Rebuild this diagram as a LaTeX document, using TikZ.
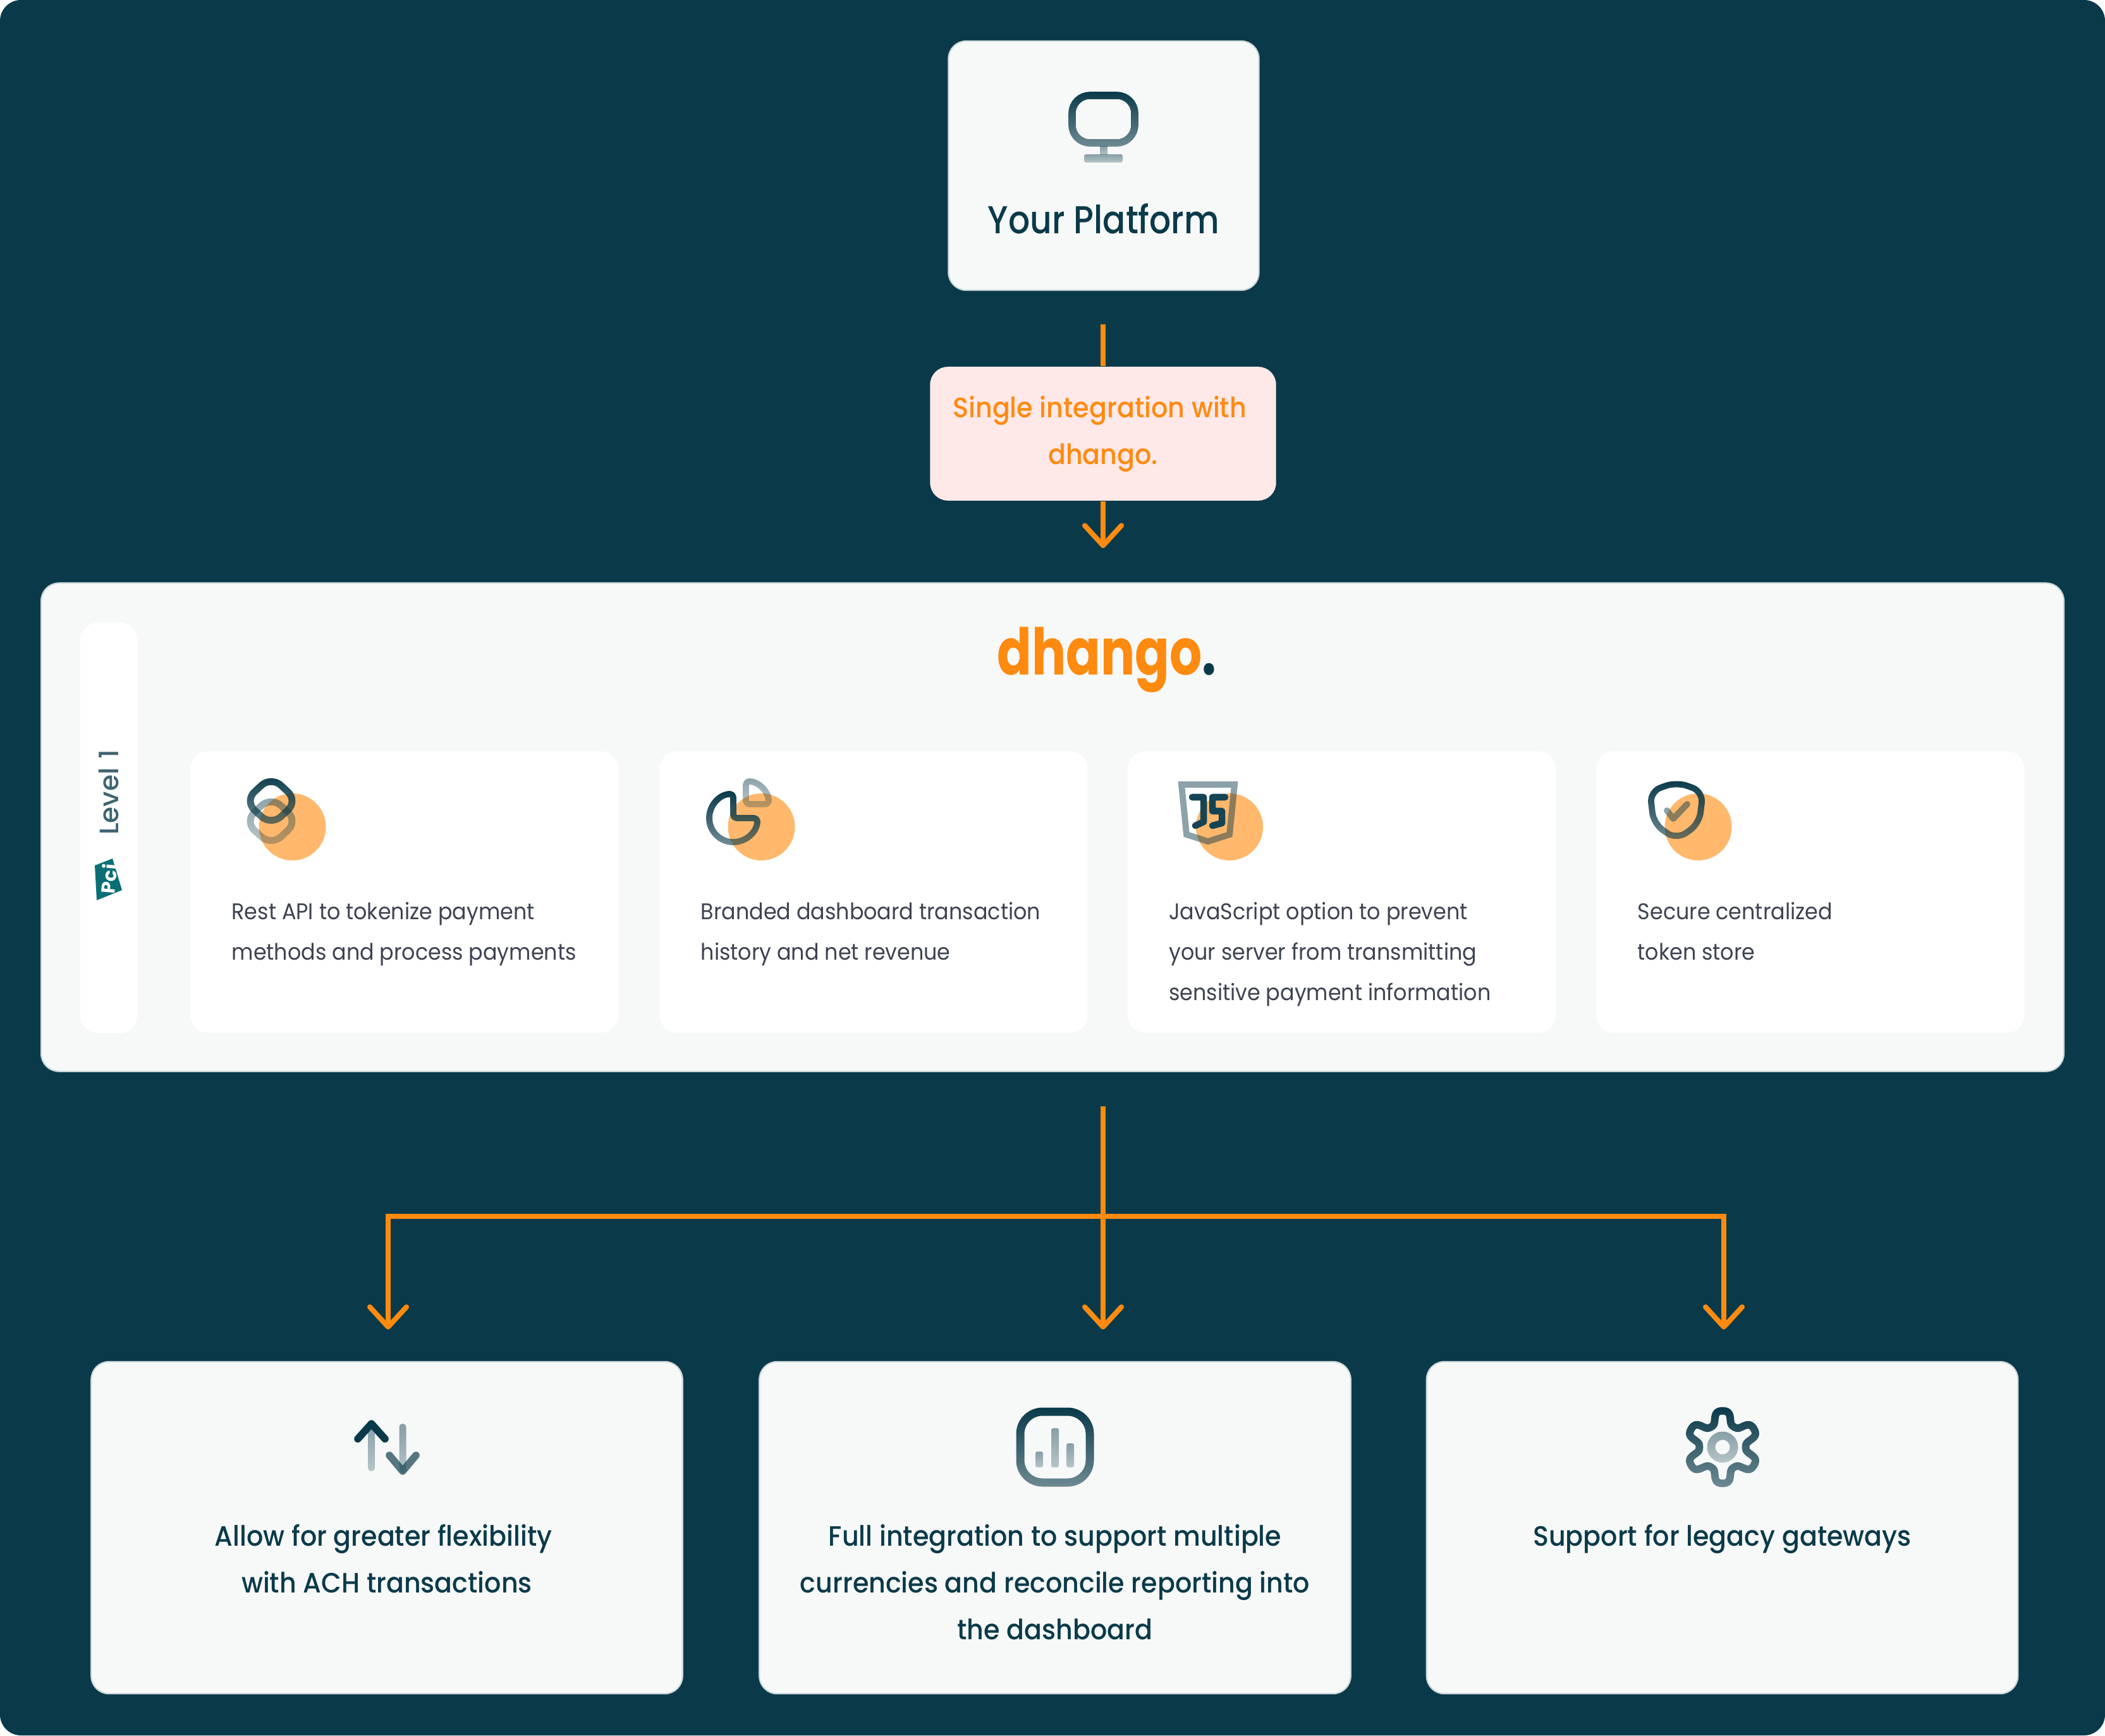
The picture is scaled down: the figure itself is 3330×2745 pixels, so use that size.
\documentclass[tikz,border=0pt]{standalone}
\usepackage{fontspec}
\setmainfont{Poppins}
\newfontfamily\headfont{Poppins Medium}[FakeStretch=0.87]
\newfontfamily\medfont{Poppins Medium}[FakeStretch=0.93]
\newfontfamily\sidefont{Poppins Medium}
\newfontfamily\regfont{Poppins}[FakeStretch=0.93]
\newfontfamily\logofont{Poppins Bold}[FakeStretch=0.79]
\newfontfamily\pcifont{Poppins Bold}
\usepackage{tikz}
\usetikzlibrary{arrows.meta,positioning,calc,fadings}
\definecolor{bgdark}{HTML}{0A3A4A}
\definecolor{boxfill}{HTML}{F7F9F8}
\definecolor{boxedge}{HTML}{CBD6D9}
\definecolor{brandorange}{HTML}{FF8A10}
\definecolor{softorange}{HTML}{FFB86C}
\definecolor{softpink}{HTML}{FFE8E8}
\definecolor{bodygrey}{HTML}{3E4351}
\definecolor{pciteal}{HTML}{0A6E75}
\tikzfading[name=iconfade,top color=transparent!0,bottom color=transparent!42]
\tikzset{
  bigbox/.style={draw=boxedge,line width=.6pt,fill=boxfill,rounded corners=8pt,inner sep=0pt},
  cardbox/.style={fill=white,rounded corners=8pt,inner sep=0pt,minimum width=6.77cm,minimum height=4.45cm},
  lowerbox/.style={bigbox,minimum width=9.35cm,minimum height=5.25cm},
  flowline/.style={draw=brandorange,line width=2.3pt},
  flowarrow/.style={flowline,-{Straight Barb[length=9pt,width=16.5pt,round]}},
  iconline/.style={draw=bgdark,line width=2.8pt,line join=round,line cap=round},
  darkline/.style={iconline,path fading=iconfade},
  lightline/.style={iconline,draw opacity=.47,path fading=iconfade},
  lightfill/.style={fill=bgdark,fill opacity=.47,path fading=iconfade},
  cardtext/.style={font=\regfont\fontsize{10.2}{18.2}\selectfont,text=bodygrey,align=left,inner sep=0pt,anchor=north west},
  lowertext/.style={font=\medfont\fontsize{12.6}{21}\selectfont,text=bgdark,align=center,inner sep=0pt,anchor=north},
}
\begin{document}
\begin{tikzpicture}[x=0.01cm,y=-0.01cm]
  \useasboundingbox (0,0) rectangle (3330,2745);
  \fill[bgdark,rounded corners=9.4pt] (0,0) rectangle (3330,2745);

  \node[bigbox,minimum width=4.91cm,minimum height=3.94cm] (platform) at (1746,262) {};
  \node[font=\headfont\fontsize{17.5}{21}\selectfont,text=bgdark,anchor=base,inner sep=0pt] (platformtext) at (1746,369) {Your Platform};
  \node[fill=softpink,rounded corners=8pt,inner sep=0pt,minimum width=5.47cm,minimum height=2.115cm] (single) at (1745,686) {};
  \node[lowertext,text=brandorange] (singletext) at (1745,626) {Single integration with\hspace*{3pt}\\dhango.};

  \coordinate (topstart) at (1745,513);
  \coordinate (toparrow) at (1745,867);
  \draw[flowline] (topstart) -- (single.north);
  \draw[flowarrow] (single.south) -- (toparrow);

  \node[bigbox,minimum width=31.98cm,minimum height=7.72cm] (panel) at (1665,1308.5) {};
  \node[fill=white,rounded corners=8pt,inner sep=0pt,minimum width=.9cm,minimum height=6.49cm] (side) at (172,1309.5) {};
  \node[font=\logofont\fontsize{29}{30}\selectfont,text=brandorange,anchor=base,inner sep=0pt] (logo) at (1751,1067) {dhango\textcolor{bgdark}{.}};
  \node[font=\sidefont\fontsize{12}{12}\selectfont,text=bgdark!78,rotate=90,inner sep=0pt] (level) at (172,1253) {Level\hspace{1pt} 1};
  \fill[pciteal] (150,1369) -- (178,1358) -- (193,1408) -- (153,1424) -- cycle;
  \node[font=\pcifont\fontsize{8.6}{9}\selectfont,text=white,rotate=85,inner sep=0pt] (pci) at (172,1390) {Pci};

  \foreach \n/\cx/\ctext in {1/640/{Rest API to tokenize payment\\methods and process payments},
      2/1382/{Branded dashboard transaction\\history and net revenue},
      3/2122.5/{JavaScript option to prevent\\your server from transmitting\\sensitive payment information},
      4/2864/{Secure centralized\\token store}}{
    \node[cardbox] (card\n) at (\cx,1411) {};
    \fill[softorange] ($(\cx,1308)+(-177.5,0)$) circle (53);
    \node[cardtext] (cardtext\n) at ($(\cx,1426)+(-274,0)$) {\ctext};
  }

  % card icons
  \draw[lightline,line width=3.1pt,rounded corners=6pt] (429,1260) -- (471,1299) -- (429,1338) -- (387,1299) -- cycle;
  \draw[darkline,line width=3.1pt,rounded corners=6pt] (429,1228) -- (471,1267) -- (429,1306) -- (387,1267) -- cycle;
  \draw[lightline,rounded corners=1.5pt] (1180,1272) -- (1180,1236) arc (-90:0:36) -- cycle;
  \draw[darkline,rounded corners=1.5pt] (1160,1294) -- (1160,1256) arc (-90:-360:38) -- cycle;
  \draw[iconline,draw opacity=.47,line cap=butt,line join=miter] (1869,1241) -- (1953,1241) -- (1945,1320) -- (1911,1331) -- (1877,1320) -- cycle;
  \draw[iconline,line width=3pt,draw=bgdark!95] (1886,1261) -- (1904,1261) -- (1904,1300) -- (1891,1306);
  \draw[iconline,line width=3pt,draw=bgdark!95] (1938,1261) -- (1918,1261) -- (1918,1283) -- (1933,1283) -- (1933,1302) -- (1918,1306);
  \draw[darkline,rounded corners=5pt] (2652,1237) -- (2694,1252) -- (2688,1303) -- (2652,1328) -- (2616,1303) -- (2610,1252) -- cycle;
  \draw[lightline,path fading=none] (2637,1282) -- (2647,1295) -- (2669,1272);

  \coordinate (trunk) at (1745,1750);
  \coordinate (split) at (1745,1924);
  \coordinate (leftend) at (614,2103);
  \coordinate (midend) at (1745,2103);
  \coordinate (rightend) at (2727,2103);
  \draw[flowarrow] (trunk) -- (midend);
  \draw[flowarrow,line join=miter] (split) -| (leftend);
  \draw[flowarrow,line join=miter] (split) -| (rightend);

  \foreach \n/\cx/\ctext in {1/612/{Allow for greater flexibility\hspace*{3pt}\\with ACH transactions},
      2/1669/{Full integration to support multiple\\currencies and reconcile reporting into\\the dashboard},
      3/2724.5/{Support for legacy gateways}}{
    \node[lowerbox] (lower\n) at (\cx,2416.5) {};
    \node[lowertext] (lowertext\n) at (\cx,2411) {\ctext};
  }

  % lower icons
  \fill[lightfill,rounded corners=1.5pt] (582,2250) rectangle (593,2327);
  \draw[darkline,line width=3.3pt,path fading=none] (566,2276) -- (587.6,2252) -- (609,2276);
  \fill[lightfill,rounded corners=1.5pt] (631.5,2252) rectangle (642.5,2330);
  \draw[iconline,line width=3.3pt,draw opacity=.68] (616,2302) -- (637,2327) -- (658,2302);
  \draw[darkline,rounded corners=10pt,line width=3.7pt] (1614,2233) rectangle (1724,2345);
  \fill[lightfill,rounded corners=.8pt] (1638,2296) rectangle (1650,2321);
  \fill[lightfill,rounded corners=.8pt] (1663,2259) rectangle (1675,2321);
  \fill[lightfill,rounded corners=.8pt] (1687,2283) rectangle (1699,2321);
  \draw[darkline,line width=3.4pt] plot[domain=0:360,samples=241] ({2725+(47-12*cos(6*\x)/sqrt(cos(6*\x)*cos(6*\x)+.35))*cos(\x)},{2289+(47-12*cos(6*\x)/sqrt(cos(6*\x)*cos(6*\x)+.35))*sin(\x)}) -- cycle;
  \draw[lightline,line width=3.7pt] (2725,2289) circle (18);

  % monitor icon
  \draw[darkline,line width=3.3pt,rounded corners=8pt] (1696,151) rectangle (1795,226);
  \fill[lightfill] (1740,231) rectangle (1752,245);
  \fill[lightfill,rounded corners=.8pt] (1715,244) rectangle (1776,257);
\end{tikzpicture}
\end{document}
